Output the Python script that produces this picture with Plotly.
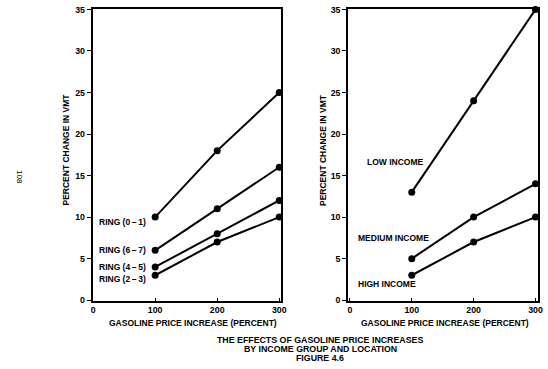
import plotly.graph_objects as go

price_increase = [100, 200, 300]

ring_labels = ["RING (0\u2009\u2013\u20091)", "RING (6\u2009\u2013\u20097)", "RING (4\u2009\u2013\u20095)", "RING (2\u2009\u2013\u20093)"]
ring_values = [
    [10, 18, 25],
    [6, 11, 16],
    [4, 8, 12],
    [3, 7, 10],
]
ring_label_y = [9.4, 6.0, 4.0, 2.5]

income_labels = ["LOW INCOME", "MEDIUM INCOME", "HIGH INCOME"]
income_values = [
    [13, 24, 35],
    [5, 10, 14],
    [3, 7, 10],
]
income_label_y = [16.6, 7.5, 1.9]

y_ticks = [0, 5, 10, 15, 20, 25, 30, 35]
x_ticks = [0, 100, 200, 300]

FONT = "Liberation Sans"
fig = go.Figure()

for vals in ring_values:
    fig.add_trace(go.Scatter(x=price_increase, y=vals, mode="lines+markers",
                             line=dict(color="black", width=2), marker=dict(color="black", size=7),
                             xaxis="x", yaxis="y", showlegend=False, cliponaxis=False))
for vals in income_values:
    fig.add_trace(go.Scatter(x=price_increase, y=vals, mode="lines+markers",
                             line=dict(color="black", width=2), marker=dict(color="black", size=7),
                             xaxis="x2", yaxis="y2", showlegend=False, cliponaxis=False))

tick_font = dict(family=FONT, size=8.8, color="black", weight="bold")
ax_common = dict(showline=True, linecolor="black", linewidth=1.5, mirror=True, showgrid=False,
                 zeroline=False, tickcolor="black", tickfont=tick_font)
x_common = dict(ticks="inside", ticklen=3, **ax_common)
y_common = dict(ticks="outside", ticklen=4, **ax_common)

fig.update_layout(
    width=548, height=369,
    margin=dict(l=0, r=0, t=0, b=0, autoexpand=False),
    paper_bgcolor="white", plot_bgcolor="white",
    xaxis=dict(domain=[92.5 / 548, 280.5 / 548], range=[-1, 302], tickvals=x_ticks, anchor="y", **x_common),
    yaxis=dict(domain=[1 - 301 / 369, 1 - 9 / 369], range=[-0.1, 35.05], tickvals=y_ticks, anchor="x", **y_common),
    xaxis2=dict(domain=[348 / 548, 538 / 548], range=[-3, 304], tickvals=x_ticks, anchor="y2", **x_common),
    yaxis2=dict(domain=[1 - 301 / 369, 1 - 9 / 369], range=[-0.1, 35.05], tickvals=y_ticks, anchor="x2", **y_common),
)

tfont = dict(family=FONT, size=8.5, color="black", weight="bold")
ann = []
for name, yv in zip(ring_labels, ring_label_y):
    ann.append(dict(x=97 / 548, y=yv, xref="paper", yref="y",
                    text=name, showarrow=False, xanchor="left", yanchor="middle", font=tfont))
for name, xv, yv in zip(income_labels, [365, 355.7, 355.7], income_label_y):
    ann.append(dict(x=xv / 548, y=yv, xref="paper", yref="y2", text=name, showarrow=False,
                    xanchor="left", yanchor="middle", font=tfont))

# axis titles
for xc in [65.5, 323]:
    ann.append(dict(x=xc / 548, y=1 - 150 / 369, xref="paper", yref="paper", text="PERCENT CHANGE IN VMT",
                    textangle=-90, showarrow=False, xanchor="center", yanchor="middle", font=tfont))
for xc in [193, 445]:
    ann.append(dict(x=xc / 548, y=1 - 322.5 / 369, xref="paper", yref="paper",
                    text="GASOLINE PRICE INCREASE (PERCENT)", showarrow=False,
                    xanchor="center", yanchor="middle", font=tfont))

caption = ["THE EFFECTS OF GASOLINE PRICE INCREASES", "BY INCOME GROUP AND LOCATION", "FIGURE 4.6"]
for line, yy in zip(caption, [340, 349, 357.5]):
    ann.append(dict(x=320 / 548, y=1 - yy / 369, xref="paper", yref="paper", text=line, showarrow=False,
                    xanchor="center", yanchor="middle", font=dict(family=FONT, size=8.8, color="black", weight="bold")))

ann.append(dict(x=20 / 548, y=1 - 177 / 369, xref="paper", yref="paper", text="108", textangle=90,
                showarrow=False, xanchor="center", yanchor="middle", font=dict(family=FONT, size=8, color="black")))

fig.update_layout(annotations=ann)
fig.write_html("out.html", config={"displayModeBar": False},
               post_script="document.body.style.margin='0px';document.body.style.overflow='hidden';")
